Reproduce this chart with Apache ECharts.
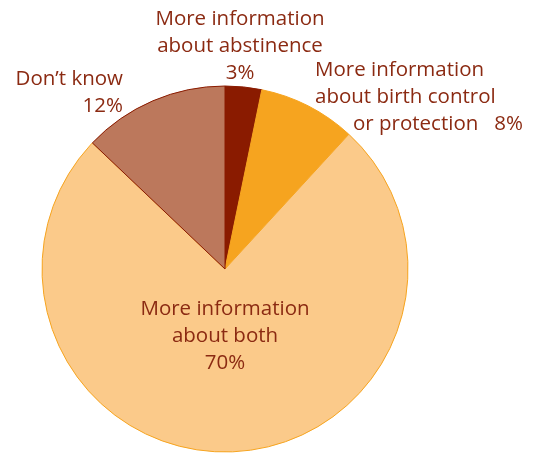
<!DOCTYPE html>
<html>
<head>
<meta charset="utf-8">
<script src="https://cdn.jsdelivr.net/npm/echarts@6/dist/echarts.min.js"></script>
<style>
  html, body { margin: 0; padding: 0; background: #fff; }
  #chart { width: 533px; height: 453px; }
</style>
</head>
<body>
<div id="chart"></div>
<script>
// Survey answers, shares in percent (clockwise from 12 o'clock)
const categories = [
  'More information\nabout abstinence',
  'More information\nabout birth control\nor protection',
  'More information\nabout both',
  'Don\u2019t know'
];
const values = [3, 8, 70, 12];
const sliceColors = ['#8a1b00', '#f6a41f', '#fbca8a', '#bc785c'];
const sliceBorders = ['#8a1b00', '#f6a41f', '#f6a41f', '#8a1b00'];

const textColor = '#8b2a12';
const fontFamily = '"Open Sans", sans-serif';
const fontSize = 20.5;
const lineHeight = 27;

// label anchor + alignment for each slice
const labelPlacement = [
  { x: 240, y: 46, align: 'center' },
  { x: 315, y: 97, align: 'left' },
  { x: 225, y: 336, align: 'center' },
  { x: 123, y: 93, align: 'right' }
];

function labelText(p) {
  const i = p.dataIndex;
  const v = p.value + '%';
  if (i === 1) {
    return 'More information\nabout birth control\n{sp|}or protection   ' + v;
  }
  if (i === 3) {
    return 'Don\u2019t know\n' + v;
  }
  return p.name + '\n' + v;
}

const chart = echarts.init(document.getElementById('chart'), null, { renderer: 'canvas' });
chart.setOption({
  animation: false,
  series: [{
    type: 'pie',
    center: [225, 269],
    radius: 183,
    startAngle: 90,
    clockwise: true,
    silent: true,
    avoidLabelOverlap: false,
    data: categories.map((name, i) => ({
      name: name,
      value: values[i],
      itemStyle: { color: sliceColors[i], borderColor: sliceBorders[i], borderWidth: 1 }
    })),
    label: {
      show: true,
      position: 'outside',
      formatter: labelText,
      color: textColor,
      fontFamily: fontFamily,
      fontSize: fontSize,
      lineHeight: lineHeight,
      overflow: 'none',
      width: 300,
      rich: {
        sp: { width: 38, fontSize: fontSize, lineHeight: lineHeight }
      }
    },
    labelLine: { show: false },
    labelLayout: function (params) {
      const p = labelPlacement[params.dataIndex];
      return { x: p.x, y: p.y, align: p.align, verticalAlign: 'middle', hideOverlap: false };
    }
  }]
});
</script>
</body>
</html>
